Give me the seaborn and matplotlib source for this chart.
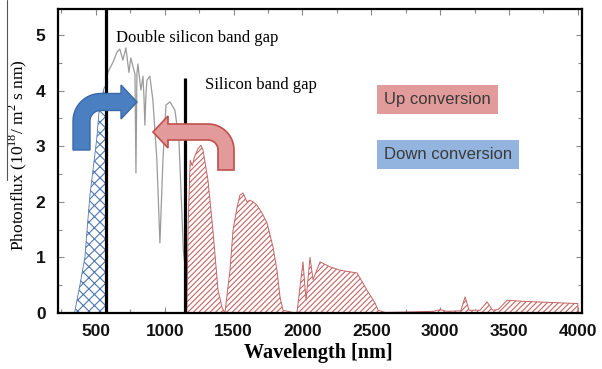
import numpy as np
import pandas as pd
import seaborn as sns
import matplotlib.pyplot as plt
from matplotlib.path import Path
from matplotlib.patches import PathPatch
from matplotlib.transforms import Affine2D
from matplotlib.lines import Line2D
from matplotlib.ticker import MultipleLocator

# Solar photon flux, split at the two band-gap wavelengths
down_wl = [345, 384, 420, 456, 478, 507, 522, 544, 560, 575]
down_flux = [0.0, 0.5, 1.0, 2.1, 2.55, 3.15, 3.6, 3.9, 4.05, 4.1]

mid_wl = [575, 587, 624, 653, 674, 696, 718, 740, 754, 776, 784, 791, 798,
          805, 827, 842, 849, 856, 863, 871, 892, 914, 943, 965, 987, 1009,
          1038, 1074, 1103, 1121, 1135, 1145]
mid_flux = [4.2, 4.33, 4.51, 4.69, 4.75, 4.55, 4.77, 4.33, 4.59, 4.37, 4.3,
            2.52, 4.3, 4.48, 4.01, 4.26, 3.9, 3.38, 3.9, 4.19, 4.26, 3.83,
            2.75, 1.26, 2.75, 3.74, 3.80, 3.65, 3.11, 2.03, 1.13, 0.9]

up_wl = [1150, 1160, 1170, 1185, 1200, 1215, 1240, 1263, 1278, 1314, 1350,
         1387, 1416, 1437, 1474, 1496, 1525, 1546, 1568, 1597, 1619, 1641,
         1670, 1706, 1743, 1786, 1815, 1837, 1859, 1946, 1961, 2004, 2026,
         2055, 2077, 2128, 2200, 2273, 2346, 2397, 2469, 2527, 2549, 2600,
         2800, 2950, 3000, 3050, 3150, 3181, 3210, 3290, 3341, 3380, 3420,
         3487, 3600, 3800, 4000]
up_flux = [0.0, 0.0, 1.6, 2.75, 2.65, 2.8, 2.95, 3.02, 2.93, 2.39, 1.49,
           0.41, 0.1, 0.0, 0.77, 1.49, 1.9, 2.12, 2.16, 2.0, 2.03, 2.0,
           1.94, 1.8, 1.62, 1.19, 0.77, 0.29, 0.05, 0.0, 0.02, 0.92, 0.23,
           1.0, 0.6, 0.92, 0.83, 0.77, 0.74, 0.72, 0.41, 0.18, 0.05, 0.01,
           0.02, 0.03, 0.06, 0.03, 0.04, 0.29, 0.05, 0.05, 0.2, 0.05, 0.06,
           0.23, 0.21, 0.19, 0.17]

double_gap_nm = 575
si_gap_nm = 1145
si_gap_line_top = 4.23

x_ticks = [500, 1000, 1500, 2000, 2500, 3000, 3500, 4000]
y_ticks = [0, 1, 2, 3, 4, 5]

sns.set_theme(style="ticks")
plt.rcParams["font.family"] = ["Liberation Sans", "DejaVu Sans"]
plt.rcParams["mathtext.fontset"] = "custom"
plt.rcParams["mathtext.rm"] = "Liberation Serif"
plt.rcParams["hatch.linewidth"] = 0.8

W, H = 602, 369
fig = plt.figure(figsize=(W / 100, H / 100), dpi=100)
ax = fig.add_axes([58 / W, 56 / H, 524 / W, 304 / H])

# hatched regions: photons for down- and up-conversion
ax.fill_between(down_wl, down_flux, 0, facecolor="white", edgecolor="#5077b0",
                hatch="xxx", lw=0.6, zorder=2)
ax.fill_between(up_wl, up_flux, 0, facecolor="white", edgecolor="#c46464",
                hatch="//////", lw=0.7, zorder=2)

# directly usable part of the spectrum
mid = pd.DataFrame({"wl": mid_wl, "flux": mid_flux})
sns.lineplot(data=mid, x="wl", y="flux", ax=ax, color="#9b9b9b", lw=0.9,
             zorder=3)

ax.axvline(double_gap_nm, color="black", lw=2.3, zorder=4)
ax.vlines(si_gap_nm, 0, si_gap_line_top, color="black", lw=2.3, zorder=4)

ax.set_xlim(225, 4030)
ax.set_ylim(0, 5.47)
ax.set_xticks(x_ticks)
ax.set_yticks(y_ticks)
ax.xaxis.set_minor_locator(MultipleLocator(250))
ax.yaxis.set_minor_locator(MultipleLocator(0.5))
ax.tick_params(which="both", direction="in", top=True, right=True,
               color="#8a8a8a", width=0.8)
ax.tick_params(which="major", length=4)
ax.tick_params(which="minor", length=3)
ax.tick_params(axis="x", which="major", pad=8)
ax.tick_params(axis="y", which="major", pad=9)
for lab in ax.get_xticklabels() + ax.get_yticklabels():
    lab.set_fontsize(12.5)
    lab.set_fontweight("bold")
    lab.set_color("#111111")
for sp in ax.spines.values():
    sp.set_color("black")
    sp.set_linewidth(1.6)

ax.set_xlabel("Wavelength [nm]", family="Liberation Serif", fontsize=14.5,
              fontweight="bold", color="black")
ax.set_ylabel(r"Photonflux (10$^{\mathrm{18}}$/ m$^{\mathrm{2}}$ s nm)",
              family="Liberation Serif", fontsize=12.5, color="black")
ax.xaxis.set_label_coords(0.496, -0.10)
ax.yaxis.set_label_coords(-0.056, 0.52)

ax.text(0.111, 0.905, "Double silicon band gap", transform=ax.transAxes,
        family="Liberation Serif", fontsize=12, color="black",
        ha="left", va="center", zorder=6)
ax.text(0.281, 0.75, "Silicon band gap", transform=ax.transAxes,
        family="Liberation Serif", fontsize=12, color="black",
        ha="left", va="center", zorder=6)

ax.text(0.622, 0.702, "Up conversion", transform=ax.transAxes, fontsize=12,
        color="#3a3a3a", ha="left", va="center", zorder=6,
        bbox=dict(boxstyle="square,pad=0.42", fc="#e29b9b", ec="none"))
ax.text(0.622, 0.523, "Down conversion", transform=ax.transAxes, fontsize=12,
        color="#3a3a3a", ha="left", va="center", zorder=6,
        bbox=dict(boxstyle="square,pad=0.42", fc="#93b4de", ec="none"))


def bent_arrow(xs, yb, yh, xt, w, r, hl, hw, d):
    """Outline of an arrow rising from (xs, yb) and turning sideways
    (d=+1 right, d=-1 left) at height yh, ending in a tip at xt.
    Coordinates are in figure pixels measured from the top-left."""
    cx, cy = xs + d * r, yh + r
    ro, ri = r + w / 2, r - w / 2
    th = np.linspace(0, np.pi / 2, 20)
    pts = [(xs - d * w / 2, yb), (xs - d * w / 2, cy)]
    pts += [(cx - d * ro * np.cos(t), cy - ro * np.sin(t)) for t in th]
    xb = xt - d * hl
    pts += [(xb, yh - w / 2), (xb, yh - hw), (xt, yh), (xb, yh + hw),
            (xb, yh + w / 2), (cx, yh + w / 2)]
    pts += [(cx - d * ri * np.cos(t), cy - ri * np.sin(t)) for t in th[::-1]]
    pts += [(xs + d * w / 2, yb), (xs - d * w / 2, yb)]
    return Path(pts, closed=True)


pix = Affine2D().scale(1 / W, -1 / H).translate(0, 1) + fig.transFigure
fig.patches.append(PathPatch(bent_arrow(81.5, 150, 102, 137, 17, 19, 16, 17, 1),
                             transform=pix, fc="#4a7fc1", ec="#3b69a6",
                             lw=1.0, zorder=7))
fig.patches.append(PathPatch(bent_arrow(226, 170, 132, 153, 16, 18, 15, 16, -1),
                             transform=pix, fc="#e39a9a", ec="#c0504d",
                             lw=1.2, zorder=7))

fig.add_artist(Line2D([7 / W, 7 / W], [1, 1 - 180 / H], color="#555555",
                      lw=0.8, transform=fig.transFigure))

fig.savefig("out.png", dpi=100)
